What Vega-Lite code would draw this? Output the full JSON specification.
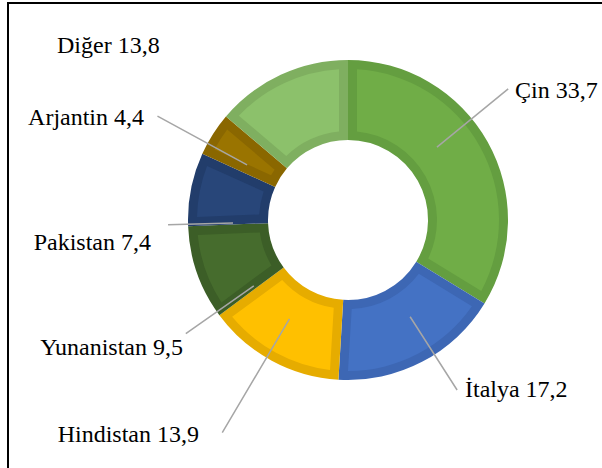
{
  "$schema": "https://vega.github.io/schema/vega-lite/v6.json",
  "width": 594,
  "height": 465,
  "autosize": {"type": "none"},
  "padding": {"left": 8, "top": 3, "right": 0, "bottom": 0},
  "background": "white",
  "view": {"stroke": "black", "strokeWidth": 2, "strokeDash": [594, 1059, 466, 1]},
  "data": {
    "values": [
      {"country": "Çin", "value": 33.7, "label": "Çin 33,7"},
      {"country": "İtalya", "value": 17.2, "label": "İtalya 17,2"},
      {"country": "Hindistan", "value": 13.9, "label": "Hindistan 13,9"},
      {"country": "Yunanistan", "value": 9.5, "label": "Yunanistan 9,5"},
      {"country": "Pakistan", "value": 7.4, "label": "Pakistan 7,4"},
      {"country": "Arjantin", "value": 4.4, "label": "Arjantin 4,4"},
      {"country": "Diğer", "value": 13.8, "label": "Diğer 13,8"}
    ]
  },
  "transform": [{"window": [{"op": "row_number", "as": "rank"}]}],
  "encoding": {
    "theta": {"field": "value", "type": "quantitative", "stack": true},
    "order": {"field": "rank", "type": "quantitative"}
  },
  "layer": [
    {
      "mark": {"type": "arc", "outerRadius": 160, "innerRadius": 80, "xOffset": 43, "yOffset": -15.5},
      "encoding": {
        "color": {
          "field": "country", "type": "nominal", "legend": null,
          "scale": {
            "domain": ["Çin", "İtalya", "Hindistan", "Yunanistan", "Pakistan", "Arjantin", "Diğer"],
            "range": ["#649E40", "#3D67B4", "#E6AC00", "#3C5E27", "#223D6B", "#8A6700", "#7FAF60"]
          }
        }
      }
    },
    {
      "mark": {"type": "arc", "outerRadius": 151, "innerRadius": 89, "padAngle": 0.1027, "xOffset": 43, "yOffset": -15.5},
      "encoding": {
        "fill": {
          "field": "country", "type": "nominal", "legend": null,
          "scale": {
            "domain": ["Çin", "İtalya", "Hindistan", "Yunanistan", "Pakistan", "Arjantin", "Diğer"],
            "range": ["#70AD47", "#4472C4", "#FFC000", "#466C2D", "#284679", "#9A7400", "#8CC16B"]
          }
        }
      }
    },
    {
      "mark": {"type": "arc", "outerRadius": 207, "innerRadius": 115, "padAngle": 3, "thetaOffset": -0.1749, "theta2Offset": -0.1749, "fill": "transparent", "fillOpacity": 0, "stroke": "#A6A6A6", "strokeWidth": 1.5, "xOffset": 43, "yOffset": -15.5},
      "encoding": {"strokeOpacity": {"condition": {"test": "datum.country === 'Çin'", "value": 1}, "value": 0}}
    },
    {
      "mark": {"type": "arc", "outerRadius": 202, "innerRadius": 115, "padAngle": 3, "thetaOffset": -0.0895, "theta2Offset": -0.0895, "fill": "transparent", "fillOpacity": 0, "stroke": "#A6A6A6", "strokeWidth": 1.5, "xOffset": 43, "yOffset": -15.5},
      "encoding": {"strokeOpacity": {"condition": {"test": "datum.country === 'İtalya'", "value": 1}, "value": 0}}
    },
    {
      "mark": {"type": "arc", "outerRadius": 247, "innerRadius": 115, "padAngle": 3, "thetaOffset": 0.0372, "theta2Offset": 0.0372, "fill": "transparent", "fillOpacity": 0, "stroke": "#A6A6A6", "strokeWidth": 1.5, "xOffset": 43, "yOffset": -15.5},
      "encoding": {"strokeOpacity": {"condition": {"test": "datum.country === 'Hindistan'", "value": 1}, "value": 0}}
    },
    {
      "mark": {"type": "arc", "outerRadius": 198, "innerRadius": 115, "padAngle": 3, "thetaOffset": -0.2728, "theta2Offset": -0.2728, "fill": "transparent", "fillOpacity": 0, "stroke": "#A6A6A6", "strokeWidth": 1.5, "xOffset": 43, "yOffset": -15.5},
      "encoding": {"strokeOpacity": {"condition": {"test": "datum.country === 'Yunanistan'", "value": 1}, "value": 0}}
    },
    {
      "mark": {"type": "arc", "outerRadius": 180, "innerRadius": 115, "padAngle": 3, "thetaOffset": -0.2196, "theta2Offset": -0.2196, "fill": "transparent", "fillOpacity": 0, "stroke": "#A6A6A6", "strokeWidth": 1.5, "xOffset": 43, "yOffset": -15.5},
      "encoding": {"strokeOpacity": {"condition": {"test": "datum.country === 'Pakistan'", "value": 1}, "value": 0}}
    },
    {
      "mark": {"type": "arc", "outerRadius": 217, "innerRadius": 115, "padAngle": 3, "thetaOffset": -0.0653, "theta2Offset": -0.0653, "fill": "transparent", "fillOpacity": 0, "stroke": "#A6A6A6", "strokeWidth": 1.5, "xOffset": 43, "yOffset": -15.5},
      "encoding": {"strokeOpacity": {"condition": {"test": "datum.country === 'Arjantin'", "value": 1}, "value": 0}}
    },
    {
      "mark": {"type": "text", "font": "Liberation Serif", "fontSize": 24, "color": "black", "align": "left", "baseline": "alphabetic", "radius": 206.8, "thetaOffset": -0.1199, "xOffset": 43, "yOffset": -15.5},
      "encoding": {"text": {"field": "label"}, "opacity": {"condition": {"test": "datum.country === 'Çin'", "value": 1}, "value": 0}}
    },
    {
      "mark": {"type": "text", "font": "Liberation Serif", "fontSize": 24, "color": "black", "align": "left", "baseline": "alphabetic", "radius": 212.2, "thetaOffset": -0.1028, "xOffset": 43, "yOffset": -15.5},
      "encoding": {"text": {"field": "label"}, "opacity": {"condition": {"test": "datum.country === 'İtalya'", "value": 1}, "value": 0}}
    },
    {
      "mark": {"type": "text", "font": "Liberation Serif", "fontSize": 24, "color": "black", "align": "right", "baseline": "alphabetic", "radius": 267.4, "thetaOffset": 0.0942, "xOffset": 43, "yOffset": -15.5},
      "encoding": {"text": {"field": "label"}, "opacity": {"condition": {"test": "datum.country === 'Hindistan'", "value": 1}, "value": 0}}
    },
    {
      "mark": {"type": "text", "font": "Liberation Serif", "fontSize": 24, "color": "black", "align": "right", "baseline": "alphabetic", "radius": 213.2, "thetaOffset": -0.3477, "xOffset": 43, "yOffset": -15.5},
      "encoding": {"text": {"field": "label"}, "opacity": {"condition": {"test": "datum.country === 'Yunanistan'", "value": 1}, "value": 0}}
    },
    {
      "mark": {"type": "text", "font": "Liberation Serif", "fontSize": 24, "color": "black", "align": "right", "baseline": "alphabetic", "radius": 199.3, "thetaOffset": -0.3445, "xOffset": 43, "yOffset": -15.5},
      "encoding": {"text": {"field": "label"}, "opacity": {"condition": {"test": "datum.country === 'Pakistan'", "value": 1}, "value": 0}}
    },
    {
      "mark": {"type": "text", "font": "Liberation Serif", "fontSize": 24, "color": "black", "align": "right", "baseline": "alphabetic", "radius": 225.0, "thetaOffset": -0.1286, "xOffset": 43, "yOffset": -15.5},
      "encoding": {"text": {"field": "label"}, "opacity": {"condition": {"test": "datum.country === 'Arjantin'", "value": 1}, "value": 0}}
    },
    {
      "mark": {"type": "text", "font": "Liberation Serif", "fontSize": 24, "color": "black", "align": "left", "baseline": "alphabetic", "radius": 335.5, "thetaOffset": -0.6159, "xOffset": 43, "yOffset": -15.5},
      "encoding": {"text": {"field": "label"}, "opacity": {"condition": {"test": "datum.country === 'Diğer'", "value": 1}, "value": 0}}
    }
  ]
}
